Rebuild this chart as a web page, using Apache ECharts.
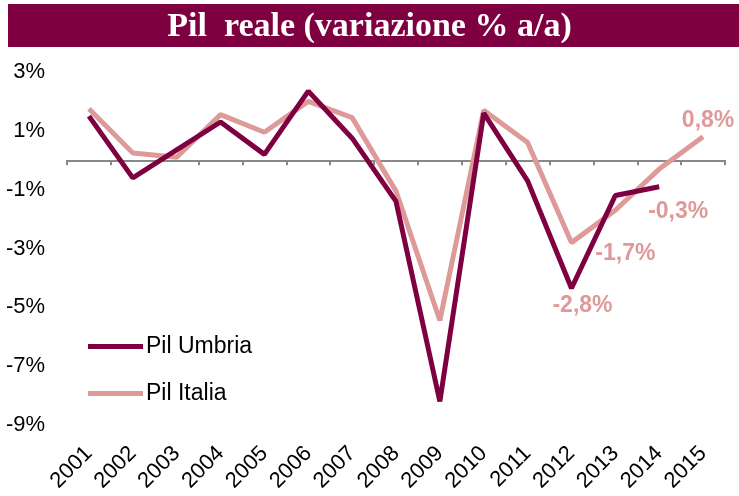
<!DOCTYPE html>
<html>
<head>
<meta charset="utf-8">
<script src="https://cdn.jsdelivr.net/npm/echarts@6/dist/echarts.min.js"></script>
<style>
  html, body { margin: 0; padding: 0; background: #fff; }
  #chart { width: 739px; height: 496px; }
</style>
</head>
<body>
<div id="chart"></div>
<script>
var anni = ['2001','2002','2003','2004','2005','2006','2007','2008','2009','2010','2011','2012','2013','2014','2015'];
var pilUmbria = [1.5, -0.6, 0.35, 1.3, 0.2, 2.35, 0.75, -1.4, -8.2, 1.6, -0.7, -4.35, -1.2, -0.9, null];
var pilItalia = [1.75, 0.25, 0.1, 1.55, 0.95, 2.0, 1.45, -1.05, -5.45, 1.7, 0.6, -2.8, -1.7, -0.3, 0.8];
var yTicks = [-9, -7, -5, -3, -1, 1, 3];

// etichette sui valori finali della serie Italia
var etichette = {
  11: { position: 'bottom', offset: [11, 47] },
  12: { position: 'bottom', offset: [10, 27] },
  13: { position: 'bottom', offset: [19, 26] },
  14: { position: 'top', offset: [5, 0] }
};

var rosa = '#DE9A98';
var bordeaux = '#7F0040';

var datiItalia = pilItalia.map(function (v, i) {
  var d = { value: v };
  if (etichette[i]) {
    d.label = {
      show: true,
      position: etichette[i].position,
      offset: etichette[i].offset,
      color: rosa,
      fontSize: 23,
      fontWeight: 'bold',
      fontFamily: 'Liberation Sans',
      formatter: function (p) { return p.value.toFixed(1).replace('.', ',') + '%'; }
    };
  }
  return d;
});

var chart = echarts.init(document.getElementById('chart'));

var option = {
  animation: false,
  graphic: [{
    type: 'rect',
    shape: { x: 8, y: 4, width: 731, height: 43 },
    style: { fill: '#7F0040' },
    z: 0
  }],
  title: {
    text: 'Pil  reale (variazione % a/a)',
    left: 'center',
    top: 5,
    textStyle: {
      color: '#fff',
      fontFamily: 'Liberation Serif',
      fontWeight: 'bold',
      fontSize: 34
    }
  },
  legend: {
    orient: 'vertical',
    left: 83,
    top: 330,
    icon: 'rect',
    itemWidth: 55,
    itemHeight: 5,
    itemGap: 24,
    textStyle: { fontFamily: 'Liberation Sans', fontSize: 23, color: '#000', padding: [0, 0, 0, -2] },
    data: ['Pil Umbria', 'Pil Italia']
  },
  grid: { left: 67, right: 14, top: 72, bottom: 71 },
  xAxis: [{
    type: 'category',
    data: anni,
    boundaryGap: true,
    axisLine: { onZero: true, lineStyle: { color: '#888', width: 2 } },
    axisTick: { show: true, length: 5, lineStyle: { color: '#888', width: 2 } },
    axisLabel: { show: false },
    splitLine: { show: false }
  }, {
    type: 'category',
    data: anni,
    boundaryGap: true,
    position: 'bottom',
    axisLine: { show: false, onZero: false },
    axisTick: { show: false },
    axisLabel: {
      rotate: 45,
      margin: 25,
      color: '#000',
      fontSize: 22,
      fontFamily: 'Liberation Sans'
    }
  }],
  yAxis: {
    type: 'value',
    min: yTicks[0],
    max: yTicks[yTicks.length - 1],
    interval: 2,
    axisLine: { show: false },
    axisTick: { show: false },
    splitLine: { show: false },
    axisLabel: {
      margin: 22,
      color: '#000',
      fontSize: 22,
      fontFamily: 'Liberation Sans',
      formatter: '{value}%'
    }
  },
  series: [{
    name: 'Pil Italia',
    type: 'line',
    data: datiItalia,
    symbol: 'circle',
    symbolSize: 0,
    showSymbol: true,
    color: rosa,
    lineStyle: { color: rosa, width: 5 },
    z: 2
  }, {
    name: 'Pil Umbria',
    type: 'line',
    data: pilUmbria,
    symbol: 'none',
    color: bordeaux,
    lineStyle: { color: bordeaux, width: 5 },
    z: 3
  }]
};

chart.setOption(option);
</script>
</body>
</html>
